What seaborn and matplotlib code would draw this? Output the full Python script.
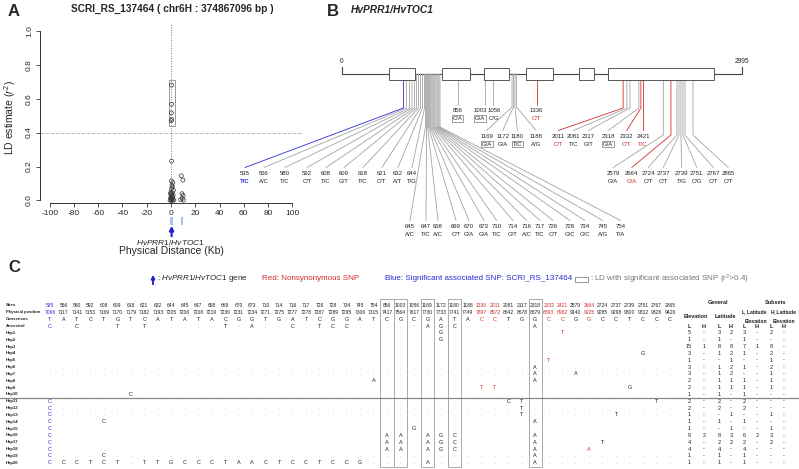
import numpy as np
import pandas as pd
import matplotlib
matplotlib.use("Agg")
import matplotlib.pyplot as plt
import matplotlib.transforms as mtrans
from matplotlib.patches import Rectangle
import seaborn as sns

# ---------- Panel A: LD con SCRI_RS_137464 ----------
ld_dist_kb = [0.4, 0.5, 0.3, 0.6, 0.2, 0.5,
              0.3, 1.5, 0.8, 1.2, 0.5, 2.0, 0.0, 1.0, -0.5, 0.6, 1.8, 0.2, 1.3, -0.3, 0.9,
              0.4, 1.6, 0.1, 2.4, -0.8, 0.7,
              8.5, 9.8, 9.0, 10.0, 9.3, 8.0, 10.2]
ld_r2 = [0.68, 0.567, 0.516, 0.478, 0.47, 0.232,
         0.115, 0.105, 0.09, 0.08, 0.07, 0.06, 0.05, 0.045, 0.04, 0.035, 0.03, 0.025, 0.02, 0.015, 0.012,
         0.008, 0.005, 0.003, 0.002, 0.001, 0.0,
         0.145, 0.12, 0.04, 0.03, 0.012, 0.005, 0.002]
gene_start_kb = [-1.0, 8.0]
gene_end_kb = [2.0, 10.0]

# ---------- Panel B: estructura del gen ----------
gene_len = 2995
exon_start = [354, 751, 1063, 1378, 1777, 1994]
exon_end = [547, 958, 1250, 1582, 1889, 2785]

sites = [535, 556, 580, 592, 608, 609, 618, 621, 632, 644,
         645, 647, 658, 669, 670, 673, 710, 714, 716, 717, 726, 728, 734, 745, 754,
         856, 1003, 1056, 1169, 1172, 1180, 1188, 1336,
         2011, 2081, 2117, 2318, 2332, 2421,
         2579, 2664, 2724, 2737, 2739, 2751, 2767, 2865]
alleles = ["T/C", "A/C", "T/C", "C/T", "T/C", "G/T", "T/C", "C/T", "A/T", "T/G",
           "A/C", "T/C", "A/C", "C/T", "G/A", "G/A", "T/C", "G/T", "A/C", "T/C", "C/T", "G/C", "G/C", "A/G", "T/A",
           "C/A", "G/A", "C/G", "G/A", "G/A", "T/C", "A/G", "C/T",
           "C/T", "T/C", "G/T", "G/A", "C/T", "T/C",
           "G/A", "G/A", "C/T", "C/T", "T/G", "C/G", "C/T", "C/T"]
# posicion dibujada sobre el gen (bp) y posicion de la etiqueta
b_anchor_bp = [460, 482, 505, 524, 543, 558, 573, 588, 603, 618,
               625, 633, 641, 648, 656, 664, 672, 680, 687, 695, 703, 711, 719, 726, 734,
               866, 1067, 1133, 1273, 1284, 1295, 1306, 1458,
               2105, 2133, 2156, 2223, 2238, 2255,
               2406, 2463, 2508, 2523, 2538, 2553, 2568, 2628]
b_label_bp = [-726, -584, -427, -262, -120, 15, 157, 299, 419, 524,
              509, 629, 719, 854, 951, 1063, 1158, 1280, 1383, 1483, 1580, 1707, 1819, 1952, 2087,
              866, 1033, 1138, 1083, 1203, 1313, 1453, 1458,
              1620, 1732, 1844, 1994, 2132, 2255,
              2031, 2169, 2293, 2406, 2543, 2656, 2780, 2892]
b_group = "aaaaaaaaaa" "bbbbbbbbbbbbbbb" "cccddddc" "eeeeee" "ffffffff"

red_sites = [1336, 2011, 2332, 2421, 2664]
blue_sites = [535]
ld_sites = [856, 1003, 1169, 1180, 2318]

# ---------- Panel C: haplotipos ----------
positions = [7096, 7117, 7141, 7153, 7169, 7170, 7179, 7182, 7193, 7205,
             7206, 7208, 7219, 7230, 7231, 7234, 7271, 7275, 7277, 7278, 7287, 7289, 7295, 7306, 7315,
             7417, 7564, 7617, 7730, 7733, 7741, 7749, 7897,
             8572, 8642, 8678, 8879, 8893, 8982,
             9140, 9225, 9285, 9298, 9300, 9312, 9328, 9426]
consensus = "TATCTGTCAT" "ATACGGTGAT" "CGGATCGCGA" "TACCTGGCCG" "GCCTCCC"
ancestral = "C.C..T.T-." "...T-A..C." "TCC....-AG" "C.....A..." "......."
haplotypes = [
    ".........." ".........." ".........G" "........T." ".......",   # Hap1
    ".........." ".........." ".........G" ".........." ".......",   # Hap2
    ".........." ".........." ".........." ".........." ".......",   # Hap3
    ".........." ".........." ".........." ".........." "....G..",   # Hap4
    ".........." ".........." ".........." ".......T.." ".......",   # Hap5
    ".........." ".........." ".........." "......A..." ".......",   # Hap6
    ".........." ".........." ".........." "......A..A" ".......",   # Hap7
    ".........." ".........." "....A....." "......A..." ".......",   # Hap8
    ".........." ".........." ".........." "..TT......" "...G...",   # Hap9
    "......C..." ".........." ".........." ".........." ".......",   # Hap10
    "C........." ".........." ".........." "....CT...." ".....T.",   # Hap11
    "C........." ".........." ".........." ".....T...." ".......",   # Hap12
    "C........." ".........." ".........." ".....T...." "..T....",   # Hap13
    "C...C....." ".........." ".........." "......A..." ".......",   # Hap14
    "C........." ".........." ".......G.." ".........." ".......",   # Hap15
    "C........." ".........." ".....AA.AG" "C.....A..." ".......",   # Hap16
    "C........." ".........." ".....AA.AG" "C.....A..." ".T.....",   # Hap17
    "C........." ".........." ".....AA.AG" "C.....A..." "A......",   # Hap18
    "C...C....." ".........." ".........." "......A..." ".......",   # Hap19
    "CCCTCT.TTG" "CCCTAACTCC" "TCCG....A." "......A..." ".......",   # Hap20
]
hap_names = ["Hap%d" % i for i in range(1, 21)]
hap_counts = [
    "5 - 3 2 3 - 2 -", "1 - 1 - 1 - - -", "15 1 8 8 7 1 8 -", "3 - 1 2 1 - 2 -",
    "1 - - 1 - - 1 -", "3 - 1 2 1 - 2 -", "3 - 1 2 - - 1 -", "2 - 1 1 1 - 1 -",
    "2 - 1 1 1 - 1 -", "1 - 1 - 1 - - -", "2 - 2 - 2 - - -", "2 - 2 - 2 - - -",
    "1 - - 1 - - 1 -", "1 - 1 - 1 - - -", "1 - - 1 - - 1 -", "9 2 8 3 6 2 3 -",
    "4 - 2 2 2 - 2 -", "4 - 4 - 4 - - -", "1 - 1 - 1 - - -", "1 - 1 - 1 - - -",
]

RED = "#D22B2B"
BLUE = "#2B2BD2"
LINE_GRAY = "#A3A3A3"

sns.set_style("ticks")
plt.rcParams['font.family'] = ['Liberation Sans', 'DejaVu Sans']
plt.rcParams['mathtext.fontset'] = 'custom'
plt.rcParams['mathtext.rm'] = 'Liberation Sans'
plt.rcParams['mathtext.it'] = 'Liberation Sans:italic'
plt.rcParams['mathtext.bf'] = 'Liberation Sans:bold'
plt.rcParams['axes.unicode_minus'] = False

W, H = 799, 469
fig = plt.figure(figsize=(W / 100, H / 100), dpi=100)


def ejes_px(x0, y0, x1, y1):
    return fig.add_axes([x0 / W, 1 - y1 / H, (x1 - x0) / W, (y1 - y0) / H])


def ftext(x, y, s, **kw):
    fig.text(x / W, 1 - y / H, s, **kw)


# ======================= Panel A =======================
ax_a = ejes_px(40, 24, 302, 203)
df_ld = pd.DataFrame({"dist": ld_dist_kb, "r2": ld_r2})
sns.scatterplot(data=df_ld, x="dist", y="r2", ax=ax_a, s=8, marker="o",
                facecolor="none", edgecolor="#333333", linewidth=0.5, zorder=3)
ax_a.set_xlim(-108, 108)
ax_a.set_ylim(-0.015, 1.04)
ax_a.set_xticks(range(-100, 101, 20))
ax_a.set_yticks([0, 0.2, 0.4, 0.6, 0.8, 1.0])
ax_a.set_yticklabels(["0.0", "0.2", "0.4", "0.6", "0.8", "1.0"])
ax_a.tick_params(labelsize=6, length=3, width=0.6, color="#333333", pad=2)
ax_a.tick_params(axis="y", labelrotation=90)
for lab in ax_a.get_yticklabels():
    lab.set_va("center")
sns.despine(ax=ax_a)
ax_a.spines["left"].set_bounds(0, 1)
ax_a.spines["bottom"].set_bounds(-100, 100)
for sp in ("left", "bottom"):
    ax_a.spines[sp].set_linewidth(0.7)
    ax_a.spines[sp].set_color("#333333")
ax_a.axhline(0.4, color="#BBBBBB", ls="--", lw=0.7, zorder=1)
ax_a.axvline(0.1, color="#777777", ls=":", lw=0.7, zorder=1)
ax_a.add_patch(Rectangle((-1.8, 0.437), 5.1, 0.272, fill=False, ec="#999999", lw=0.7))
ax_a.set_xlabel("")
ax_a.set_ylabel("")

trans = mtrans.blended_transform_factory(ax_a.transData, fig.transFigure)
for gs, ge in zip(gene_start_kb, gene_end_kb):
    ax_a.add_patch(Rectangle((gs, 1 - 225 / H), ge - gs, 8 / H, transform=trans,
                             clip_on=False, fc="#A9C3EC", ec="none"))
ax_a.annotate("", xy=(0.5, H - 223), xycoords=("data", "figure pixels"),
              xytext=(0.5, H - 239), textcoords=("data", "figure pixels"),
              arrowprops=dict(arrowstyle="-|>", color="#2222CC", lw=1.6, mutation_scale=6))

ftext(8, 12, "A", fontsize=12, fontweight="bold", va="center")
ftext(172, 9, "SCRI_RS_137464 ( chr6H : 374867096 bp )", fontsize=7.3,
      fontweight="bold", ha="center", va="center")
ftext(10, 118, r"LD estimate ($\mathit{r}^2$)", fontsize=7.5, rotation=90,
      ha="center", va="center")
ftext(171, 242, r"$\mathit{HvPRR1/HvTOC1}$", fontsize=6, ha="center", va="center")
ftext(171, 251, "Physical Distance (Kb)", fontsize=7.5, ha="center", va="center")

# ======================= Panel B =======================
ax_b = ejes_px(230, 0, 799, 250)
bp_px = gene_len / 400.0
ax_b.set_xlim(-112 * bp_px, 457 * bp_px)
ax_b.set_ylim(250, 0)
ax_b.axis("off")

ftext(327, 12, "B", fontsize=12, fontweight="bold", va="center")
ftext(392, 10, "HvPRR1/HvTOC1", fontsize=7.3, ha="center", va="center",
      fontweight="bold", fontstyle="italic")

y_bb = 74
ax_b.plot([0, gene_len], [y_bb, y_bb], color="#444444", lw=0.8, zorder=2)
for xe in (0, gene_len):
    ax_b.plot([xe, xe], [y_bb, y_bb - 7], color="#444444", lw=0.8, zorder=2)
ax_b.text(0, 65, "0", fontsize=4.8, ha="center", va="bottom")
ax_b.text(gene_len, 65, str(gene_len), fontsize=4.8, ha="center", va="bottom")
for s, e in zip(exon_start, exon_end):
    ax_b.add_patch(Rectangle((s, 68), e - s, 12, fc="white", ec="#555555", lw=0.7, zorder=4))

group_y = {"a": 173, "b": 226, "c": 110.5, "d": 136, "e": 136, "f": 173}
group_bend = {"a": 108, "b": 127, "c": None, "d": 107, "e": 108, "f": 135}


def color_of(site):
    if site in red_sites:
        return RED
    if site in blue_sites:
        return BLUE
    return None


order = sorted(range(len(sites)), key=lambda i: color_of(sites[i]) is not None)
for i in order:
    site, a, lx, g = sites[i], b_anchor_bp[i], b_label_bp[i], b_group[i]
    ly = group_y[g]
    col = color_of(site) or LINE_GRAY
    if group_bend[g] is None:
        xs, ys = [a, a], [y_bb, ly - 5.5]
    else:
        xs, ys = [a, a, lx], [y_bb, group_bend[g], ly - 5.5]
    ax_b.plot(xs, ys, color=col, lw=0.6, zorder=3 if col != LINE_GRAY else 2)
    ax_b.text(lx, ly, str(site), fontsize=4.3, ha="center", va="center", color="#222222")
    box = dict(boxstyle="square,pad=0.15", fc="none", ec="#777777", lw=0.5) if site in ld_sites else None
    ax_b.text(lx, ly + 8, alleles[i], fontsize=4.3, ha="center", va="center",
              color=color_of(site) or "#222222",
              fontweight="bold" if site in blue_sites else "normal", bbox=box)

# ======================= Panel C =======================
ftext(8, 268, "C", fontsize=12, fontweight="bold", va="center")
ax_c = ejes_px(0, 285, 799, 469)
col_px0, col_dx = 50.0, 13.48
row_px0, row_dy = 305.5, 6.84
ax_c.set_xlim(-col_px0 / col_dx, (W - col_px0) / col_dx)
ax_c.set_ylim((469 - row_px0) / row_dy, (285 - row_px0) / row_dy)
ax_c.axis("off")

# leyenda
ax_a.annotate("", xy=(153, H - 272), xycoords="figure pixels",
              xytext=(153, H - 287), textcoords="figure pixels",
              arrowprops=dict(arrowstyle="-|>", color="#2222CC", lw=1.4, mutation_scale=5))
ftext(157, 279, r": $\mathit{HvPRR1/HvTOC}$1 gene", fontsize=5.8, va="center")
ftext(262, 279, "Red: Nonsynonymous SNP", fontsize=5.8, va="center", color=RED)
ftext(385, 279, "Blue: Significant associated SNP: SCRI_RS_137464", fontsize=5.8,
      va="center", color=BLUE)
fig.add_artist(Rectangle((575 / W, 1 - 282 / H), 13 / W, 5 / H, fill=False, ec="#888888",
                         lw=0.6, transform=fig.transFigure))
ftext(590, 279, r": LD with significant associated SNP (r$^2$>0.4)", fontsize=5.8,
      va="center", color="#777777")

row_labels = ["Sites", "Physical position", "Consensus", "Ancestral"] + hap_names
lab_x = (6 - col_px0) / col_dx
for r, name in enumerate(row_labels):
    ax_c.text(lab_x, r, name, fontsize=3.1, fontweight="bold", ha="left", va="center",
              color="#222222")


def cell_color(j, ch):
    if ch in ".-":
        return "#9A9A9A"
    site = sites[j]
    if site in blue_sites:
        return BLUE
    if site in red_sites:
        return RED
    return "#222222"


for j in range(len(sites)):
    hc = color_of(sites[j]) or "#222222"
    ax_c.text(j, 0, str(sites[j]), fontsize=3.6, ha="center", va="center", color=hc)
    ax_c.text(j, 1, str(positions[j]), fontsize=3.6, ha="center", va="center", color=hc)
    ax_c.text(j, 2, consensus[j], fontsize=4, ha="center", va="center", color=hc)
    for r, seq in enumerate([ancestral] + haplotypes):
        ch = seq[j]
        ax_c.text(j, 3 + r, ch, fontsize=4, ha="center", va="center", color=cell_color(j, ch))

for site in ld_sites:
    j = sites.index(site)
    ax_c.add_patch(Rectangle((j - 0.5, -0.9), 1.0, 24.5, fill=False, ec="#AAAAAA", lw=0.7))

ax_c.axhline(13.5, color="#888888", lw=0.9)

# tabla de frecuencias
stat_px = [689, 704, 719, 731, 744, 757, 771, 784]
stat_x = [(p - col_px0) / col_dx for p in stat_px]
cx = lambda p: (p - col_px0) / col_dx
hdr = dict(fontsize=4.0, ha="center", va="center", fontweight="bold", color="#222222")
ax_c.text(cx(718), -0.4, "General", **hdr)
ax_c.text(cx(776), -0.4, "Subsets", **hdr)
ax_c.text(cx(696), 1.6, "Elevation", **hdr)
ax_c.text(cx(725), 1.6, "Latitude", **hdr)
sub = dict(hdr, fontsize=3.6)
ax_c.text(cx(754), 0.9, "L_Latitude", **sub)
ax_c.text(cx(784), 0.9, "H_Latitude", **sub)
ax_c.text(cx(756), 2.3, "Elevation", **sub)
ax_c.text(cx(784), 2.3, "Elevation", **sub)
for k, x in enumerate(stat_x):
    ax_c.text(x, 3, "LH"[k % 2], fontsize=4, ha="center", va="center", fontweight="bold",
              color="#222222")
for r, row in enumerate(hap_counts):
    for x, v in zip(stat_x, row.split()):
        ax_c.text(x, 4 + r, v, fontsize=4, ha="center", va="center", color="#222222")

plt.savefig("out.png", dpi=100)
